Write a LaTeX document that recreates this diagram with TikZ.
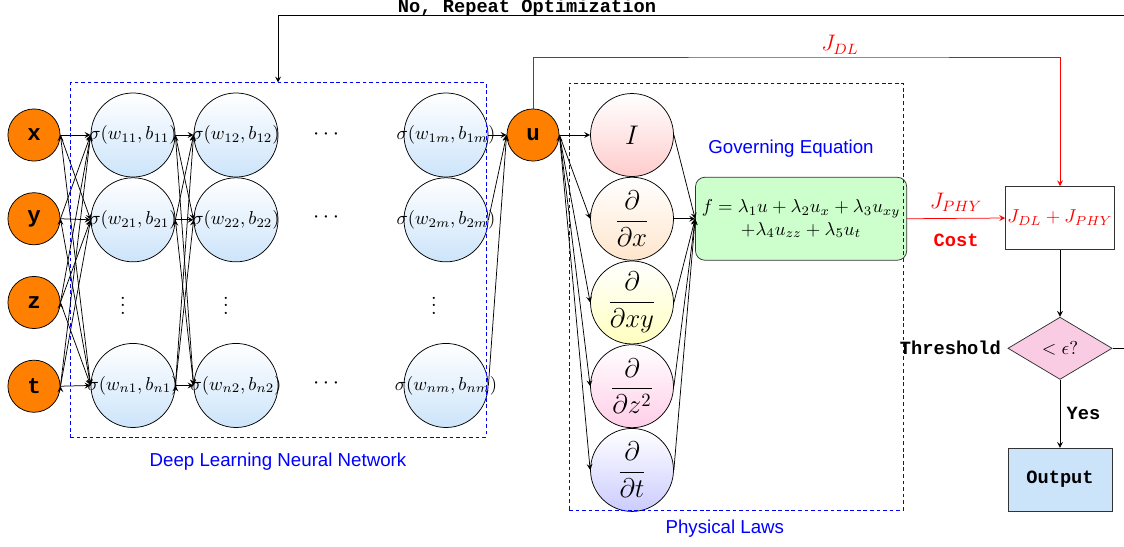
\documentclass[tikz,border=0pt]{standalone}
\usepackage{amsmath, amssymb}
\usepackage{fontspec}
\setsansfont{Liberation Sans}
\setmonofont{Liberation Mono}
\usepackage{xcolor}
\usepackage{tikz}
\usetikzlibrary{
    arrows.meta,
    positioning,
    shapes.geometric,
}

\definecolor{nnblue}{RGB}{204,228,250}
\definecolor{decpink}{RGB}{250,204,228}
\definecolor{lawpink}{RGB}{255,206,232}

% activation label, kept out of the circle size
\newcommand{\act}[1]{\makebox[0pt]{$\sigma(w_{#1}, b_{#1})$}}

\begin{document}
\begin{tikzpicture}[
        x=0.0188cm, y=-0.0188cm,
        >=stealth,
        invar/.style={
            circle, draw=black, fill=orange,
            minimum size=0.98cm, inner sep=0pt,
            font=\large\ttfamily\bfseries
        },
        neuron/.style={
            circle, draw=black, top color=white, bottom color=nnblue,
            minimum size=1.58cm, inner sep=0pt
        },
        oper/.style={
            circle, draw=black, top color=white, bottom color=#1,
            minimum size=1.56cm, inner sep=0pt, font=\Large
        },
        zone/.style={rectangle, draw=blue, dash pattern=on 2pt off 1.5pt},
        zonelabel/.style={font=\sffamily, text=blue},
        eqbox/.style={
            rectangle, rounded corners=5pt, draw=black!80, fill=green!20,
            minimum width=3.9cm, minimum height=1.56cm, align=center
        },
        flowbox/.style={
            rectangle, draw=black!80, fill=#1,
            minimum width=1.96cm, minimum height=1.18cm, inner sep=1pt
        },
        flowbox/.default=white,
        lbl/.style={font=\ttfamily\bfseries},
        arrow/.style={->, black},
        costarrow/.style={->, red},
    ]

    \useasboundingbox (0,0) rectangle (1124,546);
    \clip (0,0) rectangle (1124,546);

    % ── Inputs ──
    \node[invar] (inx) at (34,135) {x};
    \node[invar, below=0.58cm of inx] (iny) {y};
    \node[invar, below=0.58cm of iny] (inz) {z};
    \node[invar, below=0.58cm of inz] (int) {t};

    % ── Hidden layers ──
    \node[neuron] (h11) at (133,135) {\act{11}};
    \node[neuron, below=0pt of h11] (h21) {\act{21}};
    \node[neuron, below=1.52cm of h21] (hn1) {\act{n1}};
    \node[font=\large] (v1) at (123,300) {$\vdots$};

    \node[neuron] (h12) at (236,135) {\act{12}};
    \node[neuron, below=0pt of h12] (h22) {\act{22}};
    \node[neuron, below=1.52cm of h22] (hn2) {\act{n2}};
    \node[font=\large] (v2) at (226,300) {$\vdots$};

    \node[font=\large] (c1) at (328,135) {$\cdots$};
    \node[font=\large] (c2) at (328,218) {$\cdots$};
    \node[font=\large] (cn) at (328,383) {$\cdots$};

    \node[neuron] (h1m) at (446,135) {\act{1m}};
    \node[neuron, below=0pt of h1m] (h2m) {\act{2m}};
    \node[neuron, below=1.52cm of h2m] (hnm) {\act{nm}};
    \node[font=\large] (vm) at (434,300) {$\vdots$};

    % ── Network output ──
    \node[invar] (uout) at (533,135) {u};

    % ── Differential operators ──
    \node[oper=red!20] (opI) at (632,135) {$I$};
    \node[oper=orange!20, below=0pt of opI] (opx) {$\dfrac{\partial}{\partial x}$};
    \node[oper=yellow!25, below=0pt of opx] (opxy) {$\dfrac{\partial}{\partial xy}$};
    \node[oper=lawpink, below=0pt of opxy] (opzz) {$\dfrac{\partial}{\partial z^2}$};
    \node[oper=blue!20, below=0pt of opzz] (opt) {$\dfrac{\partial}{\partial t}$};

    % ── Governing equation ──
    \node[eqbox, right=0.4cm of opx] (geq)
        {$f = \lambda_1 u + \lambda_2 u_x + \lambda_3 u_{xy}$\\
         $+\lambda_4 u_{zz} + \lambda_5 u_t$};
    \node[zonelabel, above=0.24cm of geq, xshift=-0.19cm] (govlbl) {Governing Equation};

    % ── Cost, check, output ──
    \node[flowbox] (cost) at (1060,218) {\color{red}$J_{DL} + J_{PHY}$};
    \node[diamond, aspect=1.7, draw=black!80, fill=decpink, inner sep=0pt,
          minimum width=1.96cm, minimum height=1.17cm, below=1.26cm of cost] (dec) {$<\epsilon?$};
    \node[flowbox=nnblue, below=1.28cm of dec, lbl] (out) {Output};
    \node[lbl, left=0pt of dec] (thr) {Threshold};

    % ── Dashed groups ──
    \node[zone, minimum width=7.82cm, minimum height=6.66cm] (dlnet) at (278,260) {};
    \node[zonelabel, below=0.17cm of dlnet] (dllbl) {Deep Learning Neural Network};
    \node[zone, minimum width=6.28cm, minimum height=8.03cm] (plaws) at (736,296.5) {};
    \node[zonelabel, below=0.06cm of plaws, xshift=-0.21cm] (pllbl) {Physical Laws};

    % ── Arrows ──
    \draw[arrow] (inx.east) edge (h11.west) edge (h21.west) edge (hn1.west);
    \draw[arrow] (iny.east) edge (h11.west) edge (h21.west) edge (hn1.west);
    \draw[arrow] (inz.east) edge (h11.west) edge (h21.west) edge (hn1.west);
    \draw[arrow] (int.east) edge (h11.west) edge (h21.west) edge (hn1.west);

    \draw[arrow] (h11.east) edge (h12.west) edge (h22.west) edge (hn2.west);
    \draw[arrow] (h21.east) edge (h12.west) edge (h22.west) edge (hn2.west);
    \draw[arrow] (hn1.east) edge (h12.west) edge (h22.west) edge (hn2.west);

    \draw[arrow] (h1m.east) -- (uout.west);
    \draw[arrow] (h2m.east) -- (uout.west);
    \draw[arrow] (hnm.east) -- (uout.west);

    \draw[arrow] (uout.east) edge (opI.west) edge (opx.west) edge (opxy.west)
        edge (opzz.west) edge (opt.west);

    \draw[arrow] (opI.east) -- (geq.west);
    \draw[arrow] (opx.east) -- (geq.west);
    \draw[arrow] (opxy.east) -- (geq.west);
    \draw[arrow] (opzz.east) -- (geq.west);
    \draw[arrow] (opt.east) -- (geq.west);

    % ── Loss terms ──
    \coordinate (jtop) at (840,57);
    \draw[costarrow] (uout.north) |- (jtop) node[above=-2pt, font=\large] (jdl) {$J_{DL}$}
        -| (cost.north);
    \draw[costarrow] (geq.east) -- node[above, font=\large] (jphy) {$J_{PHY}$}
        node[lbl, below=5pt] (costlbl) {Cost} (cost.west);

    % ── Check loop ──
    \draw[arrow] (cost.south) -- (dec.north);
    \draw[arrow] (dec.south) -- node[lbl, right] (yes) {Yes} (out.north);
    \coordinate (loopR) at (1140,15.7);
    \draw[arrow] (dec.east) -| (loopR) -| (dlnet.north);
    \node[lbl] (repeatlbl) at (527,7.5) {No, Repeat Optimization};

\end{tikzpicture}
\end{document}
